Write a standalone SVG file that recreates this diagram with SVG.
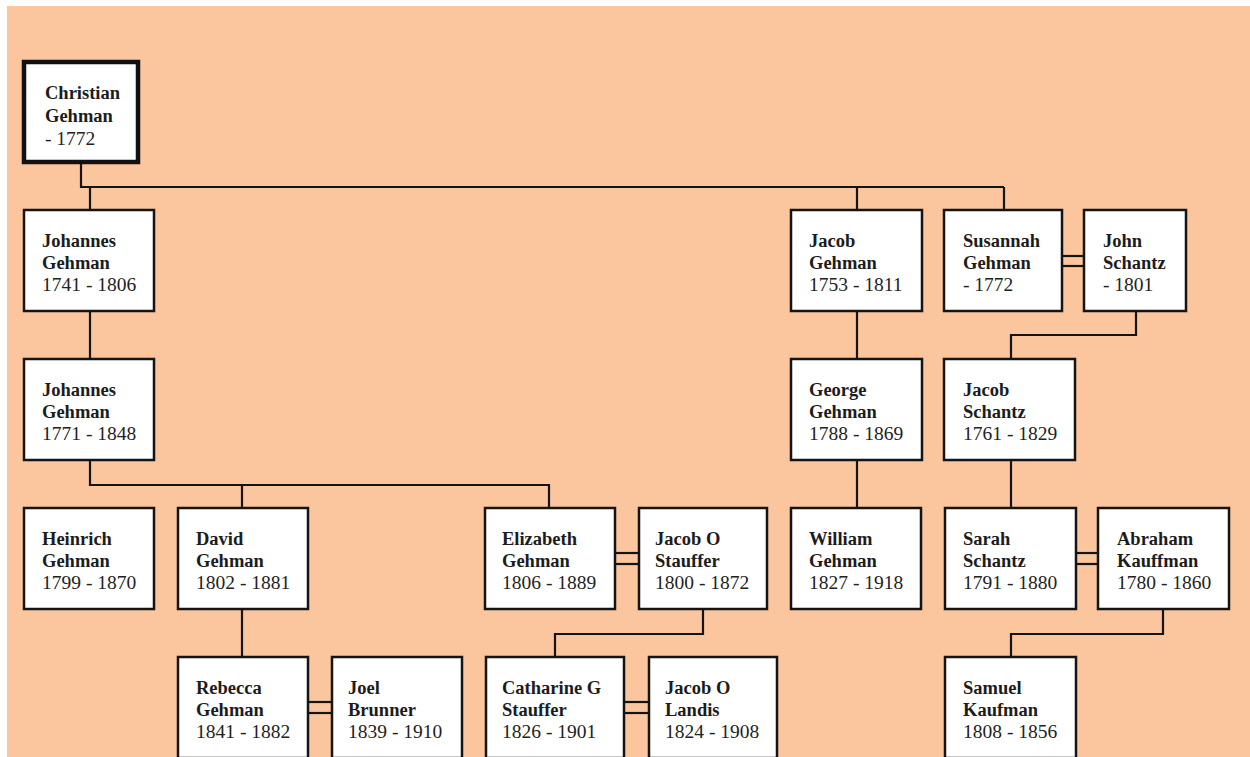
<svg xmlns="http://www.w3.org/2000/svg" width="1250" height="757" viewBox="0 0 1250 757">
  <style>
    .box { fill: #ffffff; stroke: #141414; stroke-width: 2.5; }
    .root { fill: #ffffff; stroke: #111111; stroke-width: 4.5; }
    .link { fill: none; stroke: #141414; stroke-width: 2.2; }
    .name { font-family: "Liberation Serif", "Times New Roman", serif; font-size: 18.5px; font-weight: bold; fill: #1c1c1c; }
    .date { font-family: "Liberation Serif", "Times New Roman", serif; font-size: 19.5px; fill: #222222; }
  </style>
  <rect x="0" y="0" width="1250" height="757" fill="#ffffff"/>
  <rect x="7" y="6" width="1243" height="751" fill="#fbc59d"/>

  <!-- connectors -->
  <g id="connectors" class="link">
    <!-- Christian to children -->
    <polyline points="81,164 81,187 1004,187"/>
    <line x1="90" y1="187" x2="90" y2="210"/>
    <line x1="857" y1="187" x2="857" y2="210"/>
    <line x1="1004" y1="187" x2="1004" y2="210"/>
    <!-- Johannes 1741 to Johannes 1771 -->
    <line x1="90" y1="311" x2="90" y2="359"/>
    <!-- Johannes 1771 to children -->
    <polyline points="90,460 90,485 549,485 549,508"/>
    <line x1="242" y1="485" x2="242" y2="508"/>
    <!-- David to Rebecca -->
    <line x1="242" y1="609" x2="242" y2="657"/>
    <!-- Jacob Gehman line -->
    <line x1="857" y1="311" x2="857" y2="359"/>
    <line x1="857" y1="460" x2="857" y2="508"/>
    <!-- John Schantz to Jacob Schantz -->
    <polyline points="1136,311 1136,335 1011,335 1011,359"/>
    <line x1="1011" y1="460" x2="1011" y2="508"/>
    <!-- Jacob O Stauffer to Catharine -->
    <polyline points="703,609 703,634 555,634 555,657"/>
    <!-- Abraham Kauffman to Samuel -->
    <polyline points="1163,609 1163,634 1011,634 1011,657"/>
    <!-- marriages (double lines) -->
    <line x1="1062" y1="256" x2="1084" y2="256"/>
    <line x1="1062" y1="266" x2="1084" y2="266"/>
    <line x1="615" y1="553" x2="639" y2="553"/>
    <line x1="615" y1="564" x2="639" y2="564"/>
    <line x1="1076" y1="553" x2="1098" y2="553"/>
    <line x1="1076" y1="564" x2="1098" y2="564"/>
    <line x1="308" y1="702" x2="332" y2="702"/>
    <line x1="308" y1="713" x2="332" y2="713"/>
    <line x1="624" y1="702" x2="649" y2="702"/>
    <line x1="624" y1="713" x2="649" y2="713"/>
  </g>

  <g id="christian-gehman">
    <rect class="root" x="24" y="62" width="114" height="100"/>
    <text class="name" x="45" y="99">Christian</text>
    <text class="name" x="45" y="122">Gehman</text>
    <text class="date" x="45" y="145">- 1772</text>
  </g>

  <g id="johannes-gehman-1741">
    <rect class="box" x="24" y="210" width="130" height="101"/>
    <text class="name" x="42" y="247">Johannes</text>
    <text class="name" x="42" y="269">Gehman</text>
    <text class="date" x="42" y="291">1741 - 1806</text>
  </g>

  <g id="jacob-gehman">
    <rect class="box" x="791" y="210" width="131" height="101"/>
    <text class="name" x="809" y="247">Jacob</text>
    <text class="name" x="809" y="269">Gehman</text>
    <text class="date" x="809" y="291">1753 - 1811</text>
  </g>

  <g id="susannah-gehman">
    <rect class="box" x="944" y="210" width="118" height="101"/>
    <text class="name" x="963" y="247">Susannah</text>
    <text class="name" x="963" y="269">Gehman</text>
    <text class="date" x="963" y="291">- 1772</text>
  </g>

  <g id="john-schantz">
    <rect class="box" x="1084" y="210" width="102" height="101"/>
    <text class="name" x="1103" y="247">John</text>
    <text class="name" x="1103" y="269">Schantz</text>
    <text class="date" x="1103" y="291">- 1801</text>
  </g>

  <g id="johannes-gehman-1771">
    <rect class="box" x="24" y="359" width="130" height="101"/>
    <text class="name" x="42" y="396">Johannes</text>
    <text class="name" x="42" y="418">Gehman</text>
    <text class="date" x="42" y="440">1771 - 1848</text>
  </g>

  <g id="george-gehman">
    <rect class="box" x="791" y="359" width="131" height="101"/>
    <text class="name" x="809" y="396">George</text>
    <text class="name" x="809" y="418">Gehman</text>
    <text class="date" x="809" y="440">1788 - 1869</text>
  </g>

  <g id="jacob-schantz">
    <rect class="box" x="944" y="359" width="131" height="101"/>
    <text class="name" x="963" y="396">Jacob</text>
    <text class="name" x="963" y="418">Schantz</text>
    <text class="date" x="963" y="440">1761 - 1829</text>
  </g>

  <g id="heinrich-gehman">
    <rect class="box" x="24" y="508" width="130" height="101"/>
    <text class="name" x="42" y="545">Heinrich</text>
    <text class="name" x="42" y="567">Gehman</text>
    <text class="date" x="42" y="589">1799 - 1870</text>
  </g>

  <g id="david-gehman">
    <rect class="box" x="178" y="508" width="130" height="101"/>
    <text class="name" x="196" y="545">David</text>
    <text class="name" x="196" y="567">Gehman</text>
    <text class="date" x="196" y="589">1802 - 1881</text>
  </g>

  <g id="elizabeth-gehman">
    <rect class="box" x="485" y="508" width="130" height="101"/>
    <text class="name" x="502" y="545">Elizabeth</text>
    <text class="name" x="502" y="567">Gehman</text>
    <text class="date" x="502" y="589">1806 - 1889</text>
  </g>

  <g id="jacob-o-stauffer">
    <rect class="box" x="639" y="508" width="128" height="101"/>
    <text class="name" x="655" y="545">Jacob O</text>
    <text class="name" x="655" y="567">Stauffer</text>
    <text class="date" x="655" y="589">1800 - 1872</text>
  </g>

  <g id="william-gehman">
    <rect class="box" x="791" y="508" width="130" height="101"/>
    <text class="name" x="809" y="545">William</text>
    <text class="name" x="809" y="567">Gehman</text>
    <text class="date" x="809" y="589">1827 - 1918</text>
  </g>

  <g id="sarah-schantz">
    <rect class="box" x="945" y="508" width="131" height="101"/>
    <text class="name" x="963" y="545">Sarah</text>
    <text class="name" x="963" y="567">Schantz</text>
    <text class="date" x="963" y="589">1791 - 1880</text>
  </g>

  <g id="abraham-kauffman">
    <rect class="box" x="1098" y="508" width="131" height="101"/>
    <text class="name" x="1117" y="545">Abraham</text>
    <text class="name" x="1117" y="567">Kauffman</text>
    <text class="date" x="1117" y="589">1780 - 1860</text>
  </g>

  <g id="rebecca-gehman">
    <rect class="box" x="178" y="657" width="130" height="101"/>
    <text class="name" x="196" y="694">Rebecca</text>
    <text class="name" x="196" y="716">Gehman</text>
    <text class="date" x="196" y="738">1841 - 1882</text>
  </g>

  <g id="joel-brunner">
    <rect class="box" x="332" y="657" width="130" height="101"/>
    <text class="name" x="348" y="694">Joel</text>
    <text class="name" x="348" y="716">Brunner</text>
    <text class="date" x="348" y="738">1839 - 1910</text>
  </g>

  <g id="catharine-g-stauffer">
    <rect class="box" x="486" y="657" width="138" height="101"/>
    <text class="name" x="502" y="694">Catharine G</text>
    <text class="name" x="502" y="716">Stauffer</text>
    <text class="date" x="502" y="738">1826 - 1901</text>
  </g>

  <g id="jacob-o-landis">
    <rect class="box" x="649" y="657" width="128" height="101"/>
    <text class="name" x="665" y="694">Jacob O</text>
    <text class="name" x="665" y="716">Landis</text>
    <text class="date" x="665" y="738">1824 - 1908</text>
  </g>

  <g id="samuel-kaufman">
    <rect class="box" x="945" y="657" width="131" height="101"/>
    <text class="name" x="963" y="694">Samuel</text>
    <text class="name" x="963" y="716">Kaufman</text>
    <text class="date" x="963" y="738">1808 - 1856</text>
  </g>
</svg>
